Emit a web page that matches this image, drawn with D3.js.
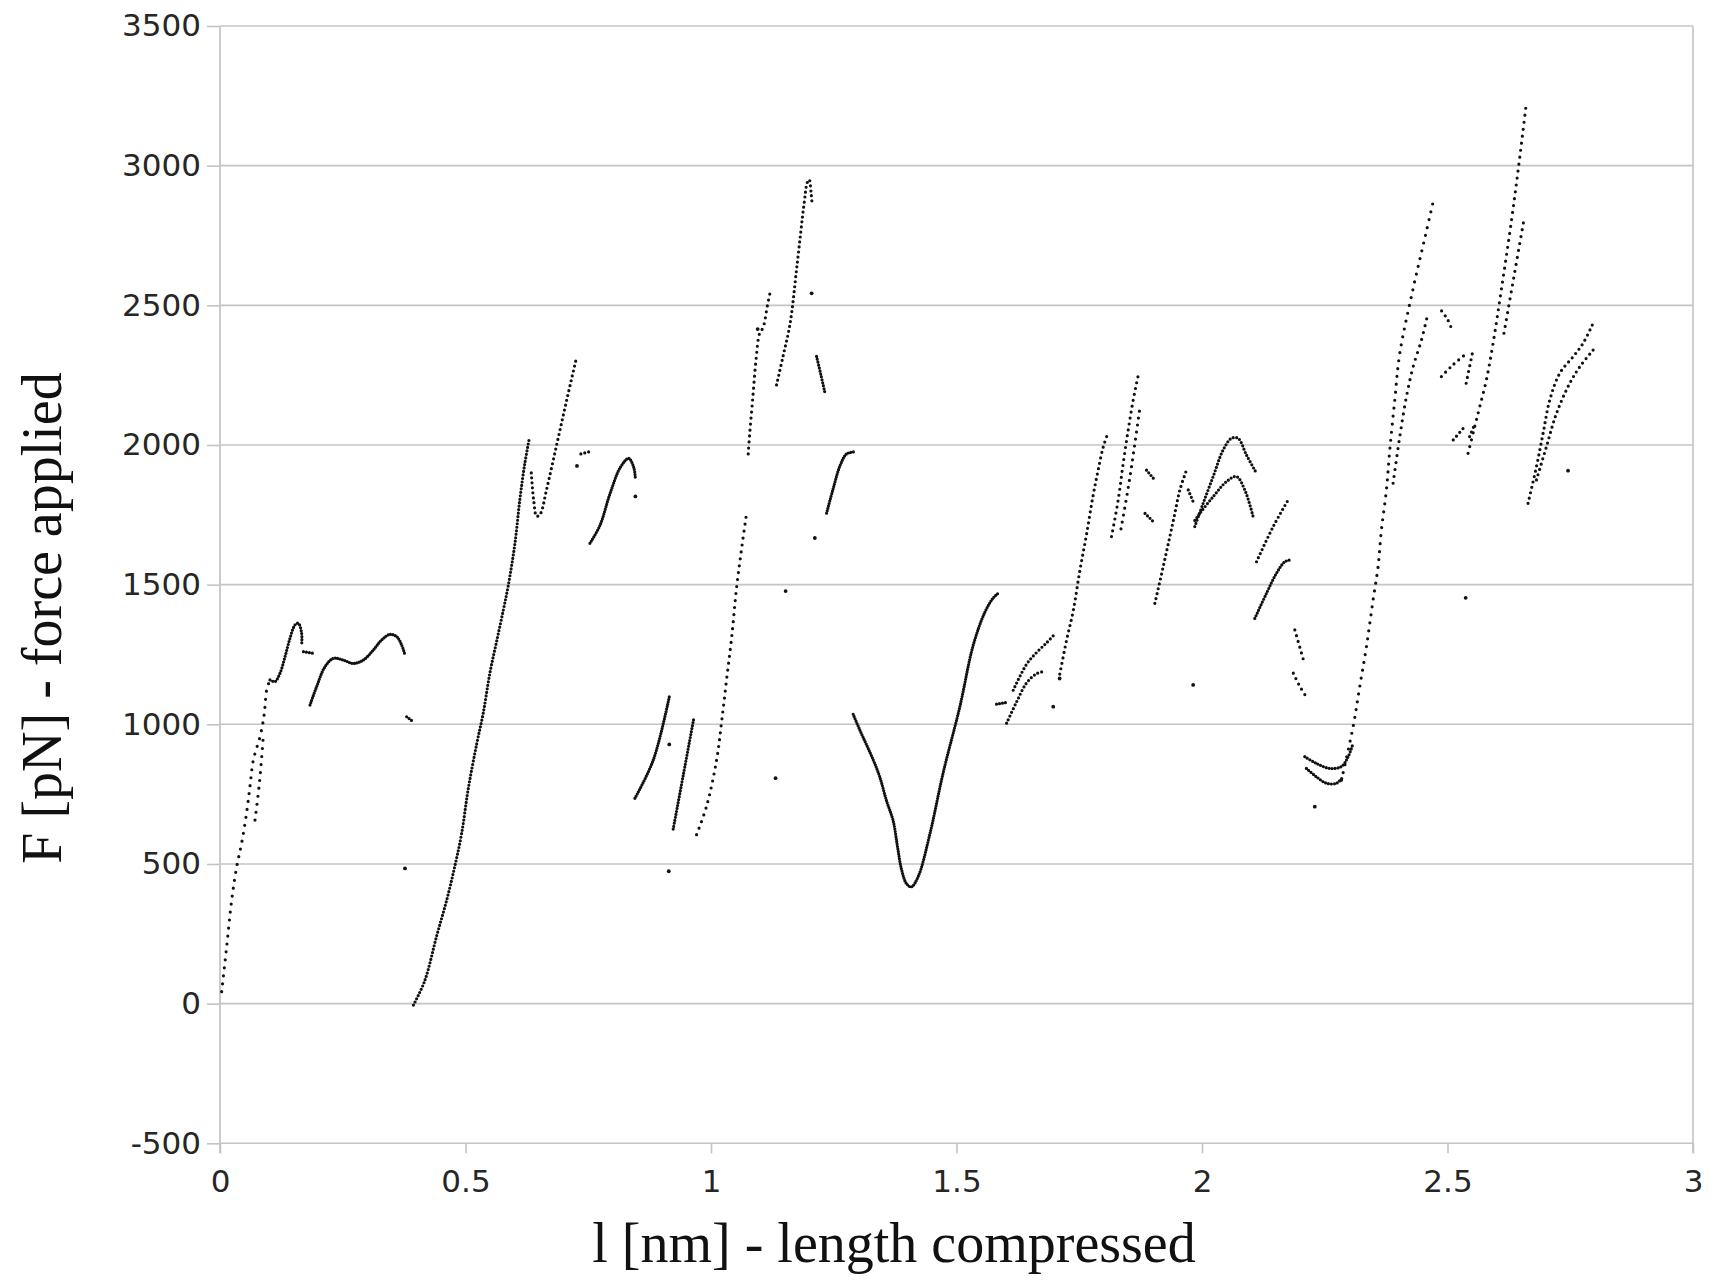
<!DOCTYPE html>
<html><head><meta charset="utf-8">
<script src="https://cdn.jsdelivr.net/npm/d3@7"></script>
<style>html,body{margin:0;background:#fff}</style>
</head><body><svg id="c" width="1716" height="1283"></svg>
<script>
// ---------- axis data ----------
const xTicks = [0, 0.5, 1, 1.5, 2, 2.5, 3];
const xTickLabels = ["0", "0.5", "1", "1.5", "2", "2.5", "3"];
const yTicks = [-500, 0, 500, 1000, 1500, 2000, 2500, 3000, 3500];
const yTickLabels = ["-500", "0", "500", "1000", "1500", "2000", "2500", "3000", "3500"];
const xTitle = "l [nm] - length compressed";
const yTitle = "F [pN] - force applied";

// ---------- measured point runs: [length nm, force pN] ----------
const s1a = [[0.0034,43],[0.0136,204],[0.0238,371],[0.034,490],[0.044,574],[0.054,681],[0.061,777],[0.0679,872],[0.0815,956],[0.0883,1015],[0.0916,1063],[0.095,1123],[0.1018,1159]];
const s1b = [[0.0713,657],[0.078,753],[0.0815,812],[0.085,884],[0.0883,960]];
const s1c = [[0.1018,1159],[0.112,1153],[0.1222,1183],[0.1324,1242],[0.1425,1308],[0.1527,1356],[0.1595,1362],[0.1663,1326],[0.1663,1284]];
const s1d = [[0.170,1260],[0.190,1254]];
const s2 = [[0.1833,1069],[0.1968,1135],[0.2138,1206],[0.2308,1236],[0.2512,1230],[0.2715,1218],[0.2919,1230],[0.3123,1266],[0.3292,1302],[0.3462,1322],[0.3598,1314],[0.37,1284],[0.3768,1248]];
const s2b = [[0.3802,1027],[0.3937,1009]];
const s3 = [[0.394,-5],[0.417,82],[0.4412,242],[0.4616,370],[0.4785,494],[0.4921,609],[0.5056,769],[0.5227,929],[0.5362,1041],[0.5498,1185],[0.5634,1297],[0.5769,1408],[0.5871,1497],[0.6007,1648],[0.6109,1808],[0.621,1936],[0.630,2024]];
const s4 = [[0.634,1900],[0.639,1800],[0.645,1745],[0.652,1752],[0.665,1840],[0.6856,2000],[0.706,2160],[0.726,2312]];
const s4b = [[0.735,1968],[0.753,1976]];
const s5 = [[0.7534,1648],[0.7738,1712],[0.794,1824],[0.8154,1920],[0.8324,1952],[0.8426,1920],[0.846,1880]];
const s6 = [[0.845,735],[0.8824,872],[0.915,1098]];
const s7 = [[0.923,625],[0.9434,817],[0.965,1022]];
const s8 = [[0.9706,605],[0.991,707],[1.0114,872],[1.0216,1009],[1.0317,1160],[1.042,1310],[1.052,1488],[1.062,1625],[1.0725,1756]];
const s9 = [[1.0758,1968],[1.0786,2036],[1.0853,2173],[1.092,2311],[1.099,2400],[1.106,2420],[1.115,2500],[1.122,2560]];
const s10 = [[1.1335,2215],[1.147,2320],[1.161,2434],[1.175,2640],[1.19,2870],[1.196,2940],[1.200,2950],[1.204,2900],[1.206,2860]];
const s11 = [[1.215,2317],[1.224,2250],[1.232,2187]];
const s12 = [[1.2354,1756],[1.249,1845],[1.263,1927],[1.276,1968],[1.290,1975]];
const s13 = [[1.2896,1036],[1.303,980],[1.3306,872],[1.344,810],[1.3577,725],[1.371,655],[1.38,560],[1.388,481],[1.398,430],[1.408,418],[1.422,455],[1.4457,607],[1.4729,827],[1.5068,1063],[1.534,1283],[1.5577,1401],[1.5746,1452],[1.585,1469]];
const s14 = [[1.5815,1072],[1.602,1078]];
const s15 = [[1.602,1004],[1.6223,1080],[1.6427,1148],[1.663,1181],[1.680,1190]];
const s16 = [[1.6155,1122],[1.6427,1215],[1.663,1257],[1.683,1291],[1.697,1317]];
const s17 = [[1.7104,1180],[1.724,1300],[1.7376,1405],[1.7512,1550],[1.7648,1680],[1.7783,1820],[1.7885,1910],[1.7987,1992],[1.8089,2045]];
const s18 = [[1.8157,1672],[1.8293,1803],[1.8395,1934],[1.8497,2054],[1.8599,2161],[1.8667,2221],[1.872,2265]];
const s18b = [[1.835,1700],[1.85,1850],[1.862,1990],[1.874,2140]];
const s19a = [[1.887,1910],[1.9036,1875]];
const s19b = [[1.884,1755],[1.904,1720]];
const s20 = [[1.904,1433],[1.9209,1564],[1.9345,1672],[1.9447,1755],[1.9549,1839],[1.9684,1910]];
const s20b = [[1.972,1839],[1.982,1797]];
const s21 = [[1.9853,1708],[2.0023,1791],[2.0227,1887],[2.043,1982],[2.06,2024],[2.0736,2024],[2.0906,1964],[2.111,1899]];
const s22 = [[1.9853,1730],[1.9955,1755],[2.0227,1815],[2.0498,1869],[2.0702,1887],[2.0872,1839],[2.1042,1743]];
const s23 = [[2.111,1582],[2.145,1708],[2.1754,1803]];
const s24 = [[2.1075,1379],[2.1313,1469],[2.1517,1541],[2.1686,1582],[2.1788,1588]];
const s25a = [[2.189,1338],[2.2067,1230]];
const s25b = [[2.186,1183],[2.198,1140],[2.21,1105]];
const s26 = [[2.2093,884],[2.2331,860],[2.2603,842],[2.284,849],[2.2976,884],[2.3078,932]];
const s27 = [[2.2127,842],[2.2331,812],[2.2535,789],[2.2738,789],[2.2874,812]];
const s28 = [[2.284,800],[2.3077,991],[2.3213,1135],[2.3349,1278],[2.3484,1445],[2.3586,1564],[2.3654,1696],[2.3756,1839],[2.3824,1982],[2.3926,2161],[2.4028,2328],[2.43,2560],[2.455,2750],[2.472,2880]];
const s28b = [[2.3892,1863],[2.4028,2030],[2.4164,2173],[2.43,2280],[2.447,2376],[2.46,2470]];
const s29a = [[2.4876,2245],[2.51,2285],[2.5387,2328]];
const s29b = [[2.488,2480],[2.50,2450],[2.508,2418]];
const s29c = [[2.5117,2018],[2.532,2060]];
const s29d = [[2.545,2030],[2.556,2077]];
const s29e = [[2.538,2221],[2.552,2340]];
const s30 = [[2.5419,1970],[2.5555,2066],[2.5657,2137],[2.5792,2233],[2.5928,2364],[2.61,2560],[2.63,2800],[2.645,3000],[2.66,3215]];
const s30b = [[2.615,2400],[2.635,2600],[2.655,2800]];
const s31 = [[2.664,1791],[2.6811,1922],[2.6947,2042],[2.7083,2161],[2.7287,2257],[2.7558,2316],[2.776,2364],[2.795,2430]];
const s31b = [[2.6811,1875],[2.7015,1994],[2.7219,2113],[2.749,2221],[2.7694,2280],[2.7966,2340]];
const lonePoints = [[0.3768,484],[0.846,1816],[0.915,928],[0.914,474],[0.727,1925],[1.095,2415],[1.205,2543],[1.2115,1667],[1.152,1477],[1.1315,807],[1.697,1063],[1.71,1164],[1.982,1141],[2.2297,705],[2.537,1453],[2.7455,1908]];

// ---------- drawing ----------
const svg = d3.select("#c");
const W = 1716, H = 1283;
svg.append("rect").attr("width", W).attr("height", H).attr("fill", "#fff");
const x = d3.scaleLinear().domain([0, 3]).range([220, 1693]);
const y = d3.scaleLinear().domain([-500, 3500]).range([1143.3, 26]);

// horizontal gridlines
svg.append("g").selectAll("line").data(yTicks).join("line")
  .attr("x1", x(0)).attr("x2", x(3))
  .attr("y1", d => y(d)).attr("y2", d => y(d))
  .attr("stroke", "#c4c4c4").attr("stroke-width", 1.6);
// left / right frame lines
svg.append("line").attr("x1", x(0)).attr("x2", x(0)).attr("y1", y(3500)).attr("y2", y(-500) + 10)
  .attr("stroke", "#cbcbcb").attr("stroke-width", 2);
svg.append("line").attr("x1", x(3)).attr("x2", x(3)).attr("y1", y(3500)).attr("y2", y(-500) + 10)
  .attr("stroke", "#c4c4c4").attr("stroke-width", 1.6);

// axes (labels + tick marks)
const yAxis = d3.axisLeft(y).tickValues(yTicks).tickSize(13).tickPadding(6)
  .tickFormat((d, i) => yTickLabels[i]);
const gy = svg.append("g").attr("transform", `translate(${x(0)},0)`).call(yAxis);
const xAxis = d3.axisBottom(x).tickValues(xTicks).tickSize(10).tickPadding(17)
  .tickFormat((d, i) => xTickLabels[i]);
const gx = svg.append("g").attr("transform", `translate(0,${y(-500)})`).call(xAxis);
[gx, gy].forEach(g => {
  g.select(".domain").remove();
  g.selectAll(".tick line").attr("stroke", "#c4c4c4").attr("stroke-width", 1.6);
  g.selectAll(".tick text").attr("fill", "#262626")
    .style("font-family", "'DejaVu Sans', sans-serif").style("font-size", "31px");
});
gx.selectAll(".tick text").attr("dy", "0.71em");

// axis titles
svg.append("text").text(xTitle).attr("x", 894).attr("y", 1262)
  .attr("text-anchor", "middle").attr("fill", "#111")
  .style("font-family", "'Liberation Serif', 'Times New Roman', serif").style("font-size", "56px");
svg.append("text").text(yTitle).attr("transform", "translate(61,618) rotate(-90)")
  .attr("text-anchor", "middle").attr("fill", "#111")
  .style("font-family", "'Liberation Serif', 'Times New Roman', serif").style("font-size", "56px");

// point runs drawn as dotted strokes (dot spacing = marker density in the source)
const runs = [
  [s1a, 8], [s1b, 8], [s1c, 3], [s1d, 3], [s2, 2.5], [s2b, 3], [s3, 3.5], [s4, 5], [s4b, 4],
  [s5, 2.5], [s6, 2.5], [s7, 3], [s8, 7], [s9, 6], [s10, 5], [s11, 3], [s12, 2.5], [s13, 2.5],
  [s14, 3], [s15, 4], [s16, 4], [s17, 5.5], [s18, 6], [s18b, 7], [s19a, 3.5], [s19b, 3.5],
  [s20, 5], [s20b, 4], [s21, 3.5], [s22, 3.5], [s23, 4.5], [s24, 3], [s25a, 6], [s25b, 6],
  [s26, 3], [s27, 3], [s28, 8], [s28b, 7], [s29a, 6], [s29b, 6], [s29c, 5], [s29d, 5], [s29e, 6],
  [s30, 7], [s30b, 7], [s31, 5.5], [s31b, 5.5]
];
const line = d3.line().x(d => x(d[0])).y(d => y(d[1])).curve(d3.curveCatmullRom.alpha(0.5));
const gp = svg.append("g");
runs.forEach(([pts, gap]) => {
  gp.append("path").attr("d", line(pts)).attr("fill", "none")
    .attr("stroke", "#111").attr("stroke-width", 3.2).attr("stroke-linecap", "round")
    .attr("stroke-dasharray", `0 ${gap}`);
});
gp.selectAll("circle").data(lonePoints).join("circle")
  .attr("cx", d => x(d[0])).attr("cy", d => y(d[1])).attr("r", 1.9).attr("fill", "#111");
</script></body></html>
